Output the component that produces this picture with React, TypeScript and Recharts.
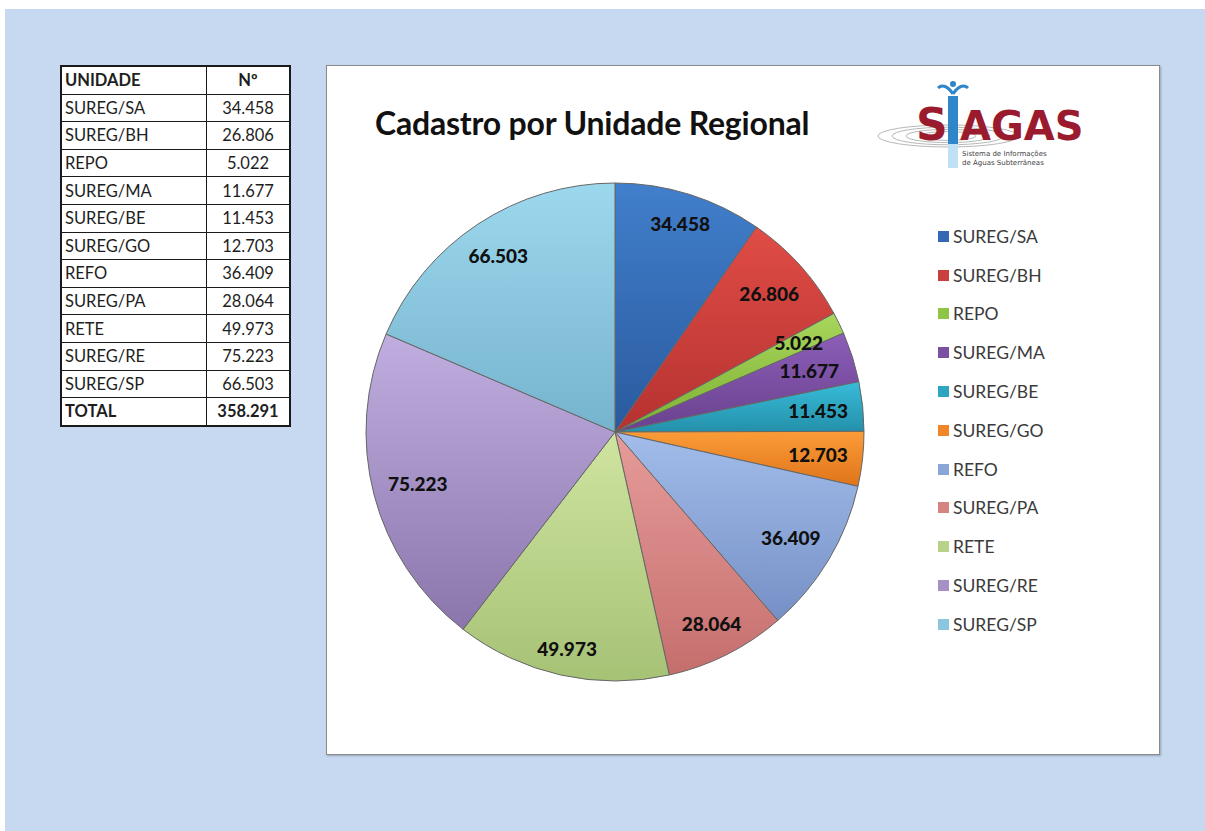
import { PieChart, Pie, Cell, Legend } from 'recharts';

const units = ['SUREG/SA', 'SUREG/BH', 'REPO', 'SUREG/MA', 'SUREG/BE', 'SUREG/GO', 'REFO', 'SUREG/PA', 'RETE', 'SUREG/RE', 'SUREG/SP'];
const counts = [34458, 26806, 5022, 11677, 11453, 12703, 36409, 28064, 49973, 75223, 66503];
const total = 358291;

const topColors = ['#417fcc', '#e04c46', '#a8d65c', '#8c5eb8', '#38bcd9', '#fb9c38', '#a2bdea', '#e69c9a', '#cfe4a0', '#c1aee0', '#9cd8ed'];
const bottomColors = ['#2a5a9e', '#b53230', '#7cb032', '#69418e', '#2490aa', '#e0741a', '#7690c6', '#c56f6d', '#a6c275', '#8a76ab', '#76b3cd'];
const legendColors = ['#3468b4', '#c93f3b', '#90c445', '#7a50a2', '#2ea6c2', '#f08628', '#8aa6d8', '#d58482', '#b8d28a', '#a690c6', '#8ac6de'];

const font = 'Lato, "Open Sans", sans-serif';

const fmt = (n: number) => String(n).replace(/\B(?=(\d{3})+(?!\d))/g, '.');

const chartData = units.map((u, i) => ({ name: u, value: counts[i] }));

const RAD = Math.PI / 180;

function renderLabel(props: any) {
  const { cx, cy, midAngle, outerRadius, value } = props;
  const c = Math.cos(-midAngle * RAD);
  const s = Math.sin(-midAngle * RAD);
  const ext = Math.abs(c) * 32 + Math.abs(s) * 9;
  const r = outerRadius - 12 - ext;
  return (
    <text x={cx + r * c} y={cy + r * s} textAnchor="middle" dominantBaseline="central"
      fill="#101010" fontFamily={font} fontWeight={900} fontSize={19}>
      {fmt(value)}
    </text>
  );
}

function LegendList() {
  return (
    <div style={{ fontFamily: font }}>
      {units.map((u, i) => (
        <div key={u} style={{ display: 'flex', alignItems: 'center', height: 38.8 }}>
          <span style={{ width: 11, height: 11, background: legendColors[i], marginRight: 4, display: 'inline-block' }} />
          <span style={{ fontSize: 17.5, color: '#3a3a3a' }}>{u}</span>
        </div>
      ))}
    </div>
  );
}

function Logo() {
  return (
    <svg width={220} height={95} style={{ position: 'absolute', left: 868, top: 80 }}>
      {[0, 1, 2, 3].map(k => (
        <ellipse key={k} cx={80} cy={56} rx={70 - k * 14} ry={11 - k * 2.2} fill="none" stroke="#b8b8b8" strokeWidth={1} />
      ))}
      <text x={48} y={60} fontFamily="'DejaVu Sans', sans-serif" fontWeight={700} fontSize={44} fill="#9b1b2e">S</text>
      <rect x={80} y={16} width={10} height={72} fill="#2f86c8" />
      <rect x={80} y={64} width={10} height={24} fill="#bfe0f5" />
      <path d="M85 14 C 80 6, 74 4, 70 8" stroke="#2f86c8" strokeWidth={3} fill="none" />
      <path d="M85 14 C 90 6, 96 4, 100 8" stroke="#2f86c8" strokeWidth={3} fill="none" />
      <circle cx={85} cy={4} r={3} fill="#2f86c8" />
      <text x={92} y={60} fontFamily="'DejaVu Sans', sans-serif" fontWeight={700} fontSize={40} fill="#9b1b2e">AGAS</text>
      <text x={94} y={76} fontFamily="'DejaVu Sans', sans-serif" fontSize={7} fill="#444">Sistema de Informações</text>
      <text x={94} y={85} fontFamily="'DejaVu Sans', sans-serif" fontSize={7} fill="#444">de Águas Subterrâneas</text>
    </svg>
  );
}

const cellStyle: React.CSSProperties = {
  border: '1px solid #1a1a1a',
  height: 26.6,
  padding: '0 3px',
  fontSize: 16.5,
  lineHeight: '20px',
  color: '#1e1e1e',
};

export default function App() {
  return (
    <div style={{ position: 'fixed', left: 0, top: 0, width: 1205, height: 831, background: '#fff', fontFamily: font }}>
      <div style={{ position: 'absolute', left: 5, top: 9, right: 0, bottom: 0, background: '#c6d9f0' }} />

      <table style={{ position: 'absolute', left: 60, top: 65, width: 231, borderCollapse: 'collapse', background: '#fff', border: '2px solid #1a1a1a' }}>
        <tbody>
          <tr>
            <td style={{ ...cellStyle, fontWeight: 700, width: 138 }}>UNIDADE</td>
            <td style={{ ...cellStyle, fontWeight: 700, textAlign: 'center' }}>Nº</td>
          </tr>
          {units.map((u, i) => (
            <tr key={u}>
              <td style={cellStyle}>{u}</td>
              <td style={{ ...cellStyle, textAlign: 'center' }}>{fmt(counts[i])}</td>
            </tr>
          ))}
          <tr>
            <td style={{ ...cellStyle, fontWeight: 700 }}>TOTAL</td>
            <td style={{ ...cellStyle, fontWeight: 700, textAlign: 'center' }}>{fmt(total)}</td>
          </tr>
        </tbody>
      </table>

      <div style={{ position: 'absolute', left: 326, top: 65, width: 832, height: 688, background: '#fff', border: '1px solid #8a8a8a', boxShadow: '1px 1px 2px rgba(0,0,0,0.25)' }}>
        <PieChart width={832} height={688} margin={{ top: 0, right: 0, bottom: 0, left: 0 }}>
          <defs>
            {units.map((u, i) => (
              <linearGradient key={u} id={`g${i}`} x1="0" y1="0" x2="0" y2="1">
                <stop offset="0%" stopColor={topColors[i]} />
                <stop offset="100%" stopColor={bottomColors[i]} />
              </linearGradient>
            ))}
          </defs>
          <Pie data={chartData} dataKey="value" nameKey="name" cx={288} cy={366} outerRadius={249}
            startAngle={90} endAngle={-270} stroke="#666" strokeWidth={1}
            label={renderLabel} labelLine={false} isAnimationActive={false}>
            {chartData.map((d, i) => (
              <Cell key={d.name} fill={`url(#g${i})`} />
            ))}
          </Pie>
          <Legend layout="vertical" content={() => <LegendList />}
            wrapperStyle={{ position: 'absolute', left: 611, top: 151, width: 180 }} />
        </PieChart>
      </div>

      <div style={{ position: 'absolute', left: 375, top: 103, fontSize: 32, fontWeight: 700, color: '#111', letterSpacing: -0.2 }}>
        Cadastro por Unidade Regional
      </div>
      <Logo />
    </div>
  );
}
